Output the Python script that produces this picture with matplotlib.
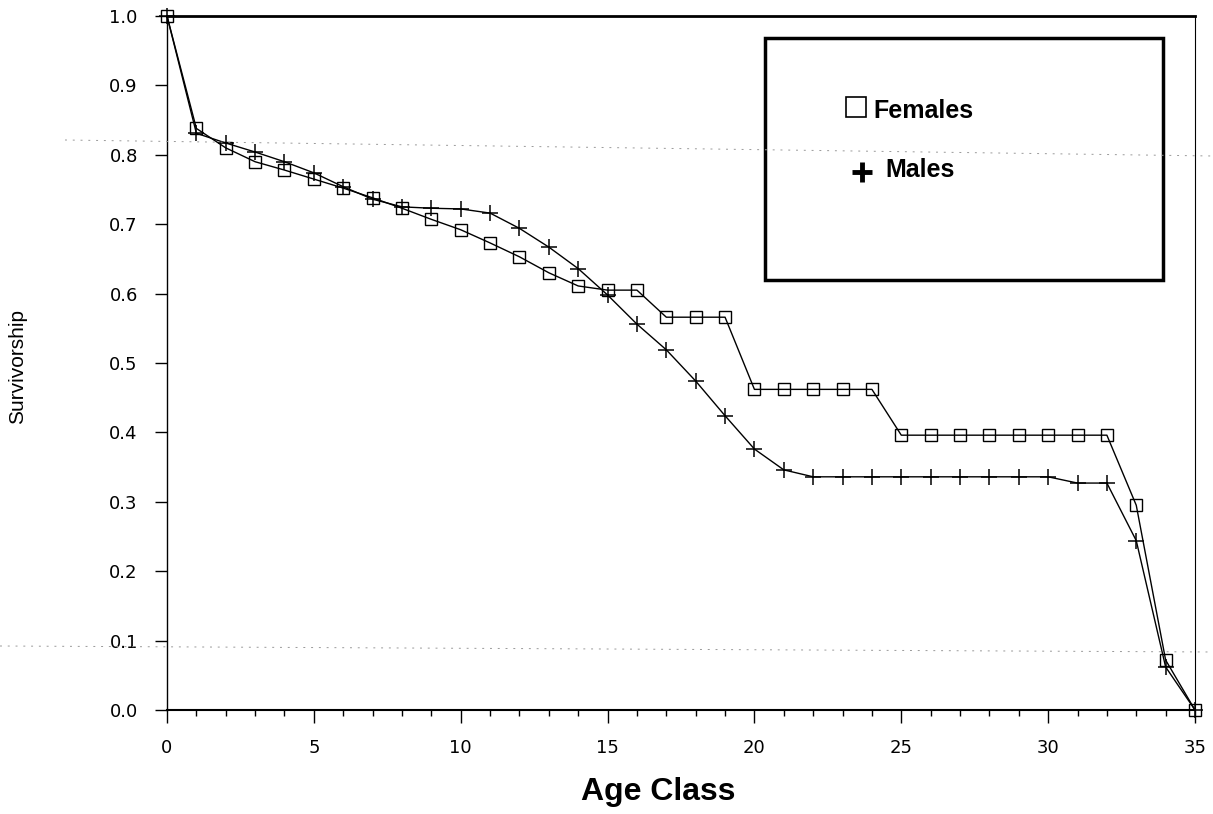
import matplotlib
matplotlib.use('Agg')
import matplotlib.pyplot as plt
from matplotlib.lines import Line2D
from matplotlib.patches import Rectangle
import numpy as np

# Survivorship by age class
ages = list(range(36))
females = [1.0, 0.838, 0.810, 0.790, 0.778, 0.765, 0.752, 0.738, 0.723, 0.707,
           0.692, 0.673, 0.653, 0.630, 0.611, 0.605, 0.605, 0.566, 0.566, 0.566,
           0.462, 0.462, 0.462, 0.462, 0.462, 0.396, 0.396, 0.396, 0.396, 0.396,
           0.396, 0.396, 0.396, 0.295, 0.072, 0.0]
males = [1.0, 0.831, 0.817, 0.804, 0.790, 0.774, 0.754, 0.736, 0.725, 0.723,
         0.722, 0.716, 0.694, 0.667, 0.636, 0.598, 0.556, 0.519, 0.474, 0.424,
         0.376, 0.346, 0.336, 0.336, 0.336, 0.336, 0.336, 0.336, 0.336, 0.336,
         0.336, 0.327, 0.327, 0.244, 0.062, 0.0]

y_ticks = np.round(np.arange(0, 1.01, 0.1), 1)
y_labels = ['%.1f' % v for v in y_ticks]
x_ticks = [0, 5, 10, 15, 20, 25, 30, 35]

W, H = 1213, 814
fig = plt.figure(figsize=(W / 100, H / 100), dpi=100)
ax = fig.add_axes([167 / W, 1 - 710 / H, (1195 - 167) / W, 694 / H])

ax.plot(ages, females, color='k', lw=1.0, marker='s', markersize=9,
        markerfacecolor='none', markeredgecolor='k', markeredgewidth=1.0,
        clip_on=False, zorder=3)
ax.plot(ages, males, color='k', lw=1.0, marker='+', markersize=11,
        markeredgewidth=1.1, clip_on=False, zorder=3)

ax.set_xlim(0, 35)
ax.set_ylim(0, 1.0)
ax.set_xticks(x_ticks)
ax.set_xticks(ages, minor=True)
ax.set_yticks(y_ticks)
ax.set_yticklabels(y_labels)

ax.tick_params(axis='y', which='major', direction='out', length=9, width=1,
               pad=12, labelsize=13)
ax.tick_params(axis='x', which='major', direction='out', length=9, width=1,
               pad=12, labelsize=13)
ax.tick_params(axis='x', which='minor', direction='out', length=4, width=1)
for lab in ax.get_xticklabels() + ax.get_yticklabels():
    lab.set_family('DejaVu Sans')

ax.spines['top'].set_linewidth(2.0)
ax.spines['bottom'].set_linewidth(1.5)
ax.spines['left'].set_linewidth(1.0)
ax.spines['right'].set_linewidth(0.8)

# legend box drawn by hand
ax.add_patch(Rectangle((0.582, 0.620), 0.387, 0.348, transform=ax.transAxes,
                       fill=False, lw=2.5, ec='k', zorder=4))
ax.add_line(Line2D([(856 - 167) / 1028], [1 - (107 - 16) / 694], marker='s',
                   markersize=15, markerfacecolor='none', markeredgecolor='k',
                   markeredgewidth=1.2, transform=ax.transAxes))
ax.text((873 - 167) / 1028, 1 - (111 - 16) / 694, 'Females', transform=ax.transAxes,
        fontsize=18, fontweight='bold', family='Liberation Sans', va='center')
ax.add_line(Line2D([(862 - 167) / 1028], [1 - (172 - 16) / 694], marker='+',
                   markersize=14, markeredgewidth=3.5, color='k',
                   transform=ax.transAxes))
ax.text((885 - 167) / 1028, 1 - (170 - 16) / 694, 'Males', transform=ax.transAxes,
        fontsize=18, fontweight='bold', family='Liberation Sans', va='center')

fig.text(658 / W, 1 - 792 / H, 'Age Class', fontsize=23, fontweight='bold',
         family='Liberation Sans', ha='center', va='center')
fig.text(18 / W, 1 - 366 / H, 'Survivorship', fontsize=15, rotation=90,
         family='Liberation Sans', ha='center', va='center')

# faint dotted scan streaks
fig.add_artist(Line2D([65 / W, 1.0], [1 - 140 / H, 1 - 156 / H], color='0.6',
                      lw=0.7, ls=(0, (2, 6))))
fig.add_artist(Line2D([0.0, 1.0], [1 - 646 / H, 1 - 652 / H], color='0.6',
                      lw=0.7, ls=(0, (2, 6))))

plt.savefig('out.png', dpi=100)
